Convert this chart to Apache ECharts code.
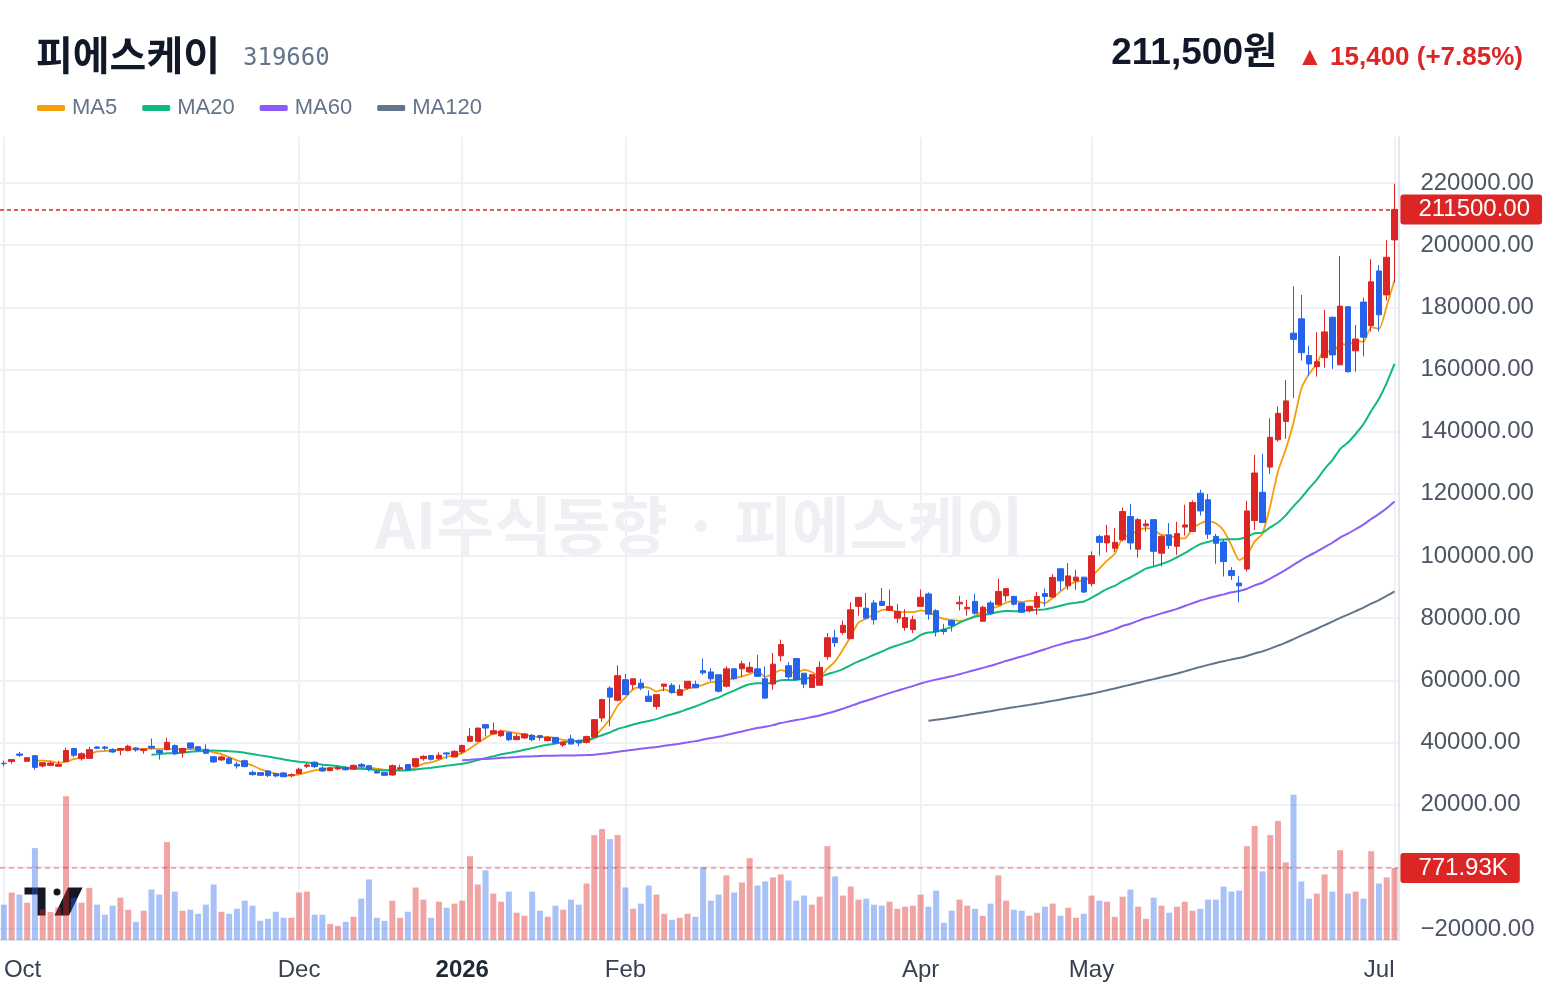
<!DOCTYPE html>
<html>
<head>
<meta charset="utf-8">
<script src="https://cdn.jsdelivr.net/npm/echarts@6/dist/echarts.min.js"></script>
<style>
html,body{margin:0;padding:0;background:#fff}
#container{width:1560px;height:996px}
</style>
</head>
<body>
<div id="container"></div>
<script>
// KRX holidays in the range (market closed)
var holidays = ['2025-10-03','2025-10-06','2025-10-07','2025-10-08','2025-10-09','2025-12-25','2025-12-31',
    '2026-01-01','2026-02-16','2026-02-17','2026-02-18','2026-03-02','2026-05-01','2026-05-05','2026-05-25','2026-06-03'];

var opens = [33300,33850,36300,33950,35750,32450,32650,32350,33850,38050,34800,34900,38550,38550,37700,37500,37400,38250,37400,38800,
    37400,37700,39000,36850,39850,38650,37800,35450,34400,34900,33000,34150,30400,30300,30850,30000,30200,29350,30000,32350,
    33650,31800,30950,31500,31900,31400,32900,32550,30650,30300,29550,31500,32900,32350,34800,35800,34800,36650,35350,36950,
    40400,40400,45750,42750,42200,43150,40900,41450,42300,42200,40600,41650,39200,41150,40600,40050,41750,47900,57500,53600,
    60200,58600,59100,54900,51600,58100,58400,55200,57500,58700,63100,62700,61800,58100,63700,63700,62700,63700,60500,58800,
    67900,64700,67000,62300,57700,58400,67600,73700,75400,73400,83800,83200,84900,85400,82500,80000,77000,76300,83800,87800,
    82400,76300,79200,84600,83000,85400,79000,84900,84300,87200,87000,84900,82400,83500,87900,86800,95900,90400,92000,93200,
    91100,106300,104200,102500,105200,112700,102200,109700,111700,100900,106800,103100,109300,107900,120200,118100,106300,104500,95300,91300,
    95800,111400,120500,128600,137400,143300,171700,176300,164500,160900,163800,176800,161500,180200,166000,181700,174100,191700,184000,201700];
var highs = [34150,34500,36950,35150,35900,33600,33850,34150,38350,38050,36850,38650,38800,38800,38150,38250,39300,38550,37900,41250,
    37700,41550,39400,38150,40050,38800,39400,35450,35800,35350,33850,34500,30950,30300,31150,30200,30500,30100,31900,33400,
    33950,32350,32150,32650,32350,32900,33400,32650,31050,30300,32900,32900,33000,34800,35900,35900,36850,36850,37500,39300,
    44650,44700,45950,46400,44150,43150,42750,43000,42750,42500,42000,41650,40400,42500,40900,42200,47350,54100,58100,64800,
    62100,60500,60500,56800,55400,58800,59100,58600,59700,59900,67000,63900,61800,64500,63900,66300,65900,68200,64500,68800,
    73100,65900,67000,62300,61800,66100,75200,76300,79200,85100,86700,88100,85900,89700,89200,84500,82900,80800,89200,88300,
    82900,78200,79500,87200,85900,87900,84000,85600,92700,89500,87200,84900,84000,88400,89500,94200,95900,97700,95600,93200,
    101500,106800,110000,109000,115600,116800,112200,111700,111700,106800,110600,111000,116500,117900,121300,120000,107100,105200,96400,93600,
    117700,132500,132900,144300,148100,156600,186700,184000,167600,172000,179200,177000,196500,180400,174300,183100,195500,193600,201700,219800];
var lows = [32350,33200,35350,33900,31250,32000,32350,32350,33800,35250,34150,34800,37900,37500,36650,35900,37150,37050,36400,37700,
    34500,37500,35900,35150,37700,37150,36400,33400,34050,32900,31600,32000,29350,29450,28900,28800,28800,28800,29750,31800,
    31800,30500,30750,31050,30950,31250,31700,30750,30100,29450,29350,30950,30950,32350,34150,34150,34500,34700,35350,36400,
    40400,40400,42000,42500,41750,40400,40900,41200,40400,40600,40400,39850,38550,39500,38750,39750,41750,46600,45200,53200,
    55400,57000,56800,53200,50600,56500,55700,55200,57000,57500,61800,59700,56100,57700,60200,61100,62300,61100,54000,57000,
    66100,60000,60000,57500,57700,58300,66600,70700,74700,73400,80800,79800,77900,84100,82500,78400,76000,75200,83800,79500,
    74100,74700,75700,82500,80800,81100,79000,81100,84000,85400,84100,81900,81900,81100,83800,86500,88800,89100,89100,88100,
    90200,100200,101200,101300,104700,102000,99500,107900,96600,96600,102300,100400,106600,107900,113000,105500,97500,93400,92300,85100,
    95000,108400,110600,126400,136800,137700,150800,162900,158000,157700,160600,160200,161500,159000,159300,164200,172200,172200,182200,188000];
var closes = [33200,34500,35900,35100,32000,33500,33400,32900,37400,35900,36400,37700,38150,38150,36950,38050,38800,37600,37900,38250,
    36650,40050,36400,38050,38250,37500,36550,33750,35350,33300,32450,32250,29650,29450,29350,29250,29000,29650,31400,32750,
    32250,30850,31800,32000,31250,32650,32350,31400,30200,29450,32550,31900,31250,34800,35550,34600,35900,36300,37150,39000,
    42000,44650,44650,43800,43600,40900,42000,42750,40900,41650,41650,39850,40050,39500,39850,41900,47350,53800,54600,61500,
    55400,60500,57500,53200,55400,58800,56100,57000,59700,57600,62400,60500,56500,63700,60500,65300,64200,61300,54300,65200,
    71500,61100,60200,58800,61800,64200,73700,72100,77700,82700,86700,80000,79500,84100,83800,82200,80200,79500,86700,81300,
    75700,75700,77700,85100,83500,81600,83500,81600,88600,89500,84500,81900,83800,87000,87000,93100,92000,93600,93200,88400,
    100100,104400,106500,104400,114300,104200,111700,110300,101500,106300,103400,107200,110000,117200,114500,107000,104100,98200,93700,90400,
    114500,126700,110800,138200,145900,149900,169700,165400,161800,162500,172100,164700,180400,159300,169800,170400,188200,177600,196100,211500];
// volume, thousands of shares
var volumes = [379,509,487,400,985,330,300,350,1540,450,400,559,379,271,368,454,325,195,314,541,
    487,1050,519,314,325,281,379,595,303,281,335,422,368,206,227,303,238,238,509,519,
    271,271,173,151,195,249,444,649,238,206,422,238,303,563,433,238,411,346,390,422,
    898,595,747,498,411,519,292,260,519,314,249,368,325,433,379,606,1125,1190,1082,1125,
    563,335,390,584,487,281,216,238,281,249,779,422,487,693,509,617,877,584,628,671,
    703,638,422,476,379,465,1006,682,476,573,433,444,379,368,411,335,357,368,487,357,
    530,184,314,433,368,335,260,390,693,422,325,314,260,292,357,390,260,346,238,281,
    476,422,411,249,465,541,357,227,454,368,292,357,411,314,335,433,433,573,519,530,
    1006,1223,736,1125,1277,833,1558,628,444,498,703,519,963,498,519,444,952,606,671,771.93];

var maNames = ['MA5','MA20','MA60','MA120'];
var maDays = [5,20,60,120];
var maColors = ['#f59e0b','#10b981','#8b5cf6','#64748b'];
var shownMonths = {10:'Oct',12:'Dec',1:'2026',2:'Feb',4:'Apr',5:'May',7:'Jul'};

// trading days 2025-10-01 .. 2026-07-01
var dates = [];
(function(){
    var d = new Date(Date.UTC(2025,9,1));
    var end = new Date(Date.UTC(2026,6,1));
    while (d <= end) {
        var s = d.toISOString().slice(0,10);
        var wd = d.getUTCDay();
        if (wd != 0 && wd != 6 && holidays.indexOf(s) < 0) dates.push(s);
        d.setUTCDate(d.getUTCDate()+1);
    }
})();

var monthStart = [];
for (var i=0;i<dates.length;i++){
    if (i == 0 || dates[i].slice(5,7) != dates[i-1].slice(5,7)) {
        var m = parseInt(dates[i].slice(5,7),10);
        if (shownMonths[m]) monthStart.push(i);
    }
}

function calcMA(n){
    var out = [];
    for (var i=0;i<closes.length;i++){
        if (i < n-1) { out.push('-'); continue; }
        var sum = 0;
        for (var j=i-n+1;j<=i;j++) sum += closes[j];
        out.push(Math.round(sum/n));
    }
    return out;
}

var candleData = [];
var volData = [];
for (var i=0;i<dates.length;i++){
    candleData.push([opens[i], closes[i], lows[i], highs[i]]);
    volData.push({value: volumes[i], itemStyle: {color: closes[i] >= opens[i] ? 'rgba(220,38,38,0.42)' : 'rgba(37,99,235,0.40)'}});
}

var gridLines = monthStart.map(function(idx){
    return {xAxis: dates[idx], lineStyle: {color: '#eef1f5', type: 'solid', width: 2}, label: {show: false}};
});
gridLines.push({
    yAxis: volumes[volumes.length-1],
    lineStyle: {color: 'rgba(220,38,38,0.45)', type: [5,4], width: 1.5},
    label: {show: true, position: 'end', distance: 2, formatter: '771.93K', color: '#fff', backgroundColor: '#dc2626',
        fontSize: 24, fontFamily: 'Liberation Sans', padding: [3, 12, 3, 18], borderRadius: 3}
});

var dom = document.getElementById('container');
var myChart = echarts.init(dom);
var volMax = volumes[volumes.length-1] * 803 / 72;

var series = [
    {
        name: 'Volume', type: 'bar', xAxisIndex: 1, yAxisIndex: 1, data: volData, barWidth: 6, z: 1,
        markLine: {silent: true, symbol: 'none', animation: false, z: 1, data: gridLines}
    },
    {
        name: 'Price', type: 'candlestick', xAxisIndex: 0, yAxisIndex: 0, data: candleData, barWidth: 6, z: 3,
        itemStyle: {color: '#dc2626', color0: '#2563eb', borderColor: '#dc2626', borderColor0: '#2563eb', borderWidth: 1},
        markLine: {
            silent: true, symbol: 'none', z: 5,
            data: [{yAxis: closes[closes.length-1]}],
            lineStyle: {color: '#dc2626', type: [4,3], width: 1.5},
            label: {show: true, position: 'end', distance: 2, formatter: '211500.00', color: '#fff', backgroundColor: '#dc2626',
                fontSize: 24, fontFamily: 'Liberation Sans', padding: [3, 12, 3, 18], borderRadius: 3}
        }
    }
];
for (var k=0;k<maNames.length;k++){
    series.push({
        name: maNames[k], type: 'line', xAxisIndex: 0, yAxisIndex: 0, data: calcMA(maDays[k]), z: 3,
        showSymbol: false, smooth: 0.2, color: maColors[k],
        lineStyle: {width: k == 0 ? 1.8 : 2, color: maColors[k]}
    });
}

var option = {
    animation: false,
    backgroundColor: '#fff',
    textStyle: {fontFamily: 'Liberation Sans, Arial, sans-serif'},
    legend: {
        left: 37, top: 97, padding: 0, itemWidth: 28, itemHeight: 6, itemGap: 25, icon: 'roundRect',
        textStyle: {fontSize: 22, color: '#64748b', padding: [0, 0, 0, 2]},
        data: maNames
    },
    grid: [
        {left: -2, width: 1400.4, top: 183, height: 746},
        {left: -2, width: 1400.4, top: 137, height: 803}
    ],
    xAxis: [
        {type: 'category', gridIndex: 0, data: dates, show: false},
        {
            type: 'category', gridIndex: 1, data: dates,
            axisLine: {lineStyle: {color: '#e2e8f0', width: 2}},
            axisTick: {show: false},
            splitLine: {show: false},
            axisLabel: {
                fontSize: 24, color: '#374151', margin: 18, alignMinLabel: 'left', alignMaxLabel: 'right',
                interval: function(idx){ return monthStart.indexOf(idx) >= 0; },
                formatter: function(value){
                    var m = parseInt(value.slice(5,7),10);
                    if (m == 1) return '{b|2026}';
                    return shownMonths[m];
                },
                rich: {b: {fontSize: 24, fontWeight: 'bold', color: '#1f2937'}}
            }
        }
    ],
    yAxis: [
        {
            type: 'value', gridIndex: 0, position: 'right', min: -20000, max: 220000, interval: 20000,
            axisLine: {show: false}, axisTick: {show: false},
            splitLine: {lineStyle: {color: '#eef1f5', width: 2}},
            axisLabel: {fontSize: 24, color: '#4b5563', margin: 22,
                formatter: function(v){ return v.toFixed(2).replace('-', '\u2212'); }}
        },
        {
            type: 'value', gridIndex: 1, position: 'right', min: 0, max: volMax,
            axisLine: {show: true, lineStyle: {color: '#e2e8f0', width: 2}},
            axisTick: {show: false}, axisLabel: {show: false}, splitLine: {show: false}
        }
    ],
    graphic: [
        {type: 'text', left: 375, top: 494, z: 1, silent: true,
            style: {text: 'AI주식동향 · 피에스케이', font: 'bold 63px "Noto Sans CJK KR"', fill: '#eef0f3'}},
        {type: 'text', x: 36, y: 55, style: {text: '피에스케이', font: 'bold 40px "Noto Sans CJK KR"', fill: '#111827', verticalAlign: 'middle'}},
        {type: 'text', x: 243, y: 59, style: {text: '319660', font: '24px "DejaVu Sans Mono", monospace', fill: '#64748b', verticalAlign: 'middle'}},
        {type: 'text', x: 1277, y: 54, style: {text: '211,500원', font: 'bold 37px "Liberation Sans", "Noto Sans CJK KR"', fill: '#111827', align: 'right', verticalAlign: 'middle'}},
        {type: 'text', x: 1523, y: 58, style: {text: '▲ 15,400 (+7.85%)', font: 'bold 26px "Liberation Sans", "DejaVu Sans"', fill: '#dc2626', align: 'right', verticalAlign: 'middle'}},
        // tradingview mark
        {type: 'group', z: 10, children: [
            {type: 'polygon', shape: {points: [[23,886],[47,886],[47,917],[36,917],[36,896],[23,896]]},
                style: {fill: '#131722', stroke: '#fff', lineWidth: 3}},
            {type: 'circle', shape: {cx: 57, cy: 892, r: 5}, style: {fill: '#131722', stroke: '#fff', lineWidth: 3}},
            {type: 'polygon', shape: {points: [[67,886],[85,886],[70,917],[52,917]]},
                style: {fill: '#131722', stroke: '#fff', lineWidth: 3}}
        ]}
    ],
    series: series
};

myChart.setOption(option, true);
</script>
</body>
</html>
